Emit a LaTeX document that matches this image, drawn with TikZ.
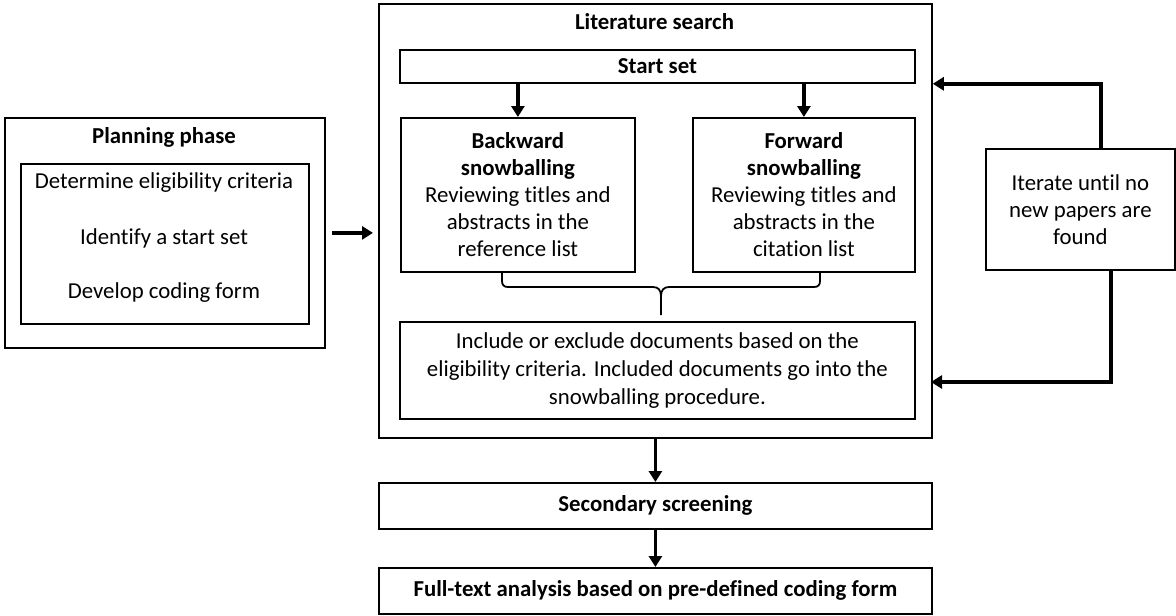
\documentclass[tikz,border=0pt]{standalone}
\usepackage{fontspec}
\setmainfont[Ligatures=NoCommon]{Carlito}
\usetikzlibrary{arrows.meta}
\begin{document}
\begin{tikzpicture}[x=1pt,y=-1pt,
  box/.style={draw, line width=1.8pt, anchor=north west, inner sep=0pt, align=center, font=\fontsize{22.8}{27}\selectfont},
  arr/.style={line width=3.5pt, -{Triangle[width=13pt,length=11pt]}},
  lbl/.style={inner sep=0pt, align=center, font=\fontsize{22.8}{27}\selectfont},
  brace/.style={line width=1.8pt}]
\useasboundingbox (0,0) rectangle (1176,616);
% planning phase
\node[box, minimum width=320pt, minimum height=230pt] (plan) at (4,117) {};
\node[lbl] (plantitle) at (164,137) {\textbf{Planning phase}};
\node[box, minimum width=288pt, minimum height=160pt] (planin) at (20,163) {};
\node[lbl] (p1) at (164,183) {Determine eligibility criteria};
\node[lbl] (p2) at (164,238) {Identify a start set};
\node[lbl] (p3) at (164,293) {Develop coding form};
% literature search
\node[box, minimum width=553pt, minimum height=434pt] (lit) at (378,3) {};
\node[lbl] (littitle) at (654.5,22) {\textbf{Literature search}};
\node[box, minimum width=515pt, minimum height=33pt] (start) at (399,49) {\textbf{Start set}};
\node[box, minimum width=234pt, minimum height=154pt] (back) at (400,117)
  {\textbf{Backward}\\\textbf{snowballing}\\Reviewing titles and\\abstracts in the\\reference list};
\node[box, minimum width=222pt, minimum height=154pt] (fwd) at (692,117)
  {\textbf{Forward}\\\textbf{snowballing}\\Reviewing titles and\\abstracts in the\\citation list};
\node[box, minimum width=515pt, minimum height=97pt, font=\fontsize{22.8}{28}\selectfont] (incl) at (399,321)
  {Include or exclude documents based on the\\eligibility criteria. Included documents go into the\\snowballing procedure.};
% iterate
\node[box, minimum width=189pt, minimum height=121pt] (iter) at (985,148)
  {Iterate until no\\new papers are\\found};
% lower boxes
\node[box, minimum width=553pt, minimum height=46pt] (sec) at (378,482) {\textbf{Secondary screening}};
\node[box, minimum width=553pt, minimum height=46pt] (full) at (378,567) {\textbf{Full-text analysis based on pre-defined coding form}};
% coordinates
\coordinate (topin) at (lit.east |- start.south);
\coordinate (botin) at (931,382);
\coordinate (brL) at (502,271);
\coordinate (brR) at (820,271);
\coordinate (brC) at (661,315);
% arrows
\draw[arr] ([xshift=6pt]plan.east) -- ([xshift=-5pt]plan.east -| lit.west);
\draw[arr] (start.south -| back.north) -- (back.north);
\draw[arr] (start.south -| fwd.north) -- (fwd.north);
\draw[arr] (lit.south) -- (sec.north);
\draw[arr] (sec.south) -- (full.north);
\draw[arr] ([xshift=20.5pt]iter.north) |- (topin);
\draw[arr] ([xshift=30.5pt]iter.south) |- (botin);
% brace
\draw[brace] (brL) -- (502,281) .. controls (502,285) and (504,287) .. (508,287) -- (653,287)
  .. controls (658,287) and (661,290) .. (661,296) -- (brC);
\draw[brace] (brR) -- (820,281) .. controls (820,285) and (818,287) .. (814,287) -- (669,287)
  .. controls (664,287) and (661,290) .. (661,296);
\end{tikzpicture}
\end{document}
